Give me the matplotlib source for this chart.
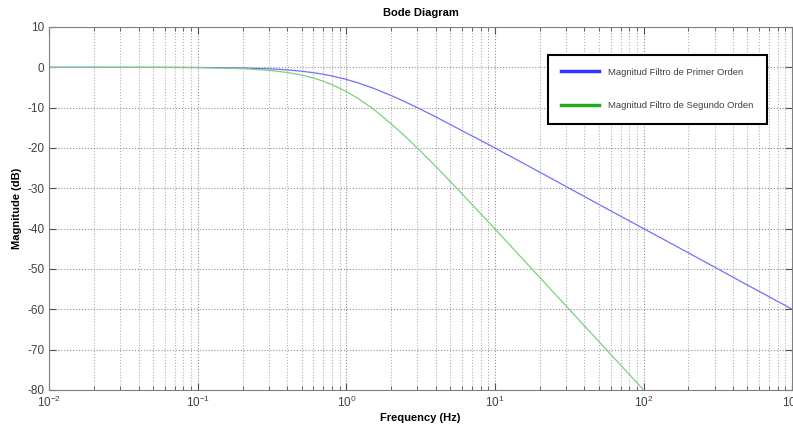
import matplotlib
matplotlib.use("Agg")
import matplotlib.pyplot as plt
from matplotlib.lines import Line2D

plt.rcParams['font.family'] = ['Liberation Sans', 'DejaVu Sans']
plt.rcParams['mathtext.default'] = 'regular'
plt.rcParams['axes.unicode_minus'] = False

# values (Hz, dB)
freq_1 = [0.01, 0.05, 0.1, 0.2, 0.3, 0.4, 0.5, 0.6, 0.7, 0.8, 1.0, 1.2, 1.5, 2.0, 2.5,
          3.0, 4.0, 5.0, 7.0, 10.0, 20.0, 50.0, 100.0, 200.0, 500.0, 1000.0]
mag_1 = [0.0, -0.01, -0.04, -0.17, -0.37, -0.64, -0.97, -1.34, -1.73, -2.15, -3.01, -3.87,
         -5.12, -6.99, -8.60, -10.0, -12.3, -14.2, -17.0, -20.0, -26.0, -34.0, -40.0,
         -46.0, -54.0, -60.0]

freq_2 = [0.01, 0.05, 0.1, 0.2, 0.3, 0.4, 0.5, 0.6, 0.7, 0.8, 1.0, 1.2, 1.5, 2.0, 2.5,
          3.0, 4.0, 5.0, 7.0, 10.0, 20.0, 50.0, 100.0]
mag_2 = [0.0, -0.02, -0.09, -0.34, -0.74, -1.29, -1.94, -2.67, -3.46, -4.30, -6.02, -7.74,
         -10.2, -14.0, -17.2, -20.0, -24.6, -28.3, -34.0, -40.1, -52.1, -68.0, -80.0]

labels = ['Magnitud Filtro de Primer Orden', 'Magnitud Filtro de Segundo Orden']

fig = plt.figure(figsize=(7.93, 4.28), dpi=100)
ax = fig.add_axes([0.062, 0.089, 0.937, 0.848])

ax.semilogx(freq_1, mag_1, color='#7070ff', lw=0.9)
ax.semilogx(freq_2, mag_2, color='#7fd07f', lw=0.9)

ax.set_xlim(1e-2, 1e3)
ax.set_ylim(-80, 10)
ax.set_yticks(range(-80, 11, 10))

ax.grid(True, which='major', ls=':', color='#909090', lw=0.8)
ax.grid(True, which='minor', axis='x', ls=':', color='#b0b0b0', lw=0.8)

ax.tick_params(which='both', direction='in', top=True, right=True,
               labelsize=8.5, colors='#505050', labelcolor='#404040')
ax.tick_params(which='major', length=5)
ax.tick_params(which='minor', length=3)
for s in ax.spines.values():
    s.set_color('#808080')

ax.set_title('Bode Diagram', fontsize=8, fontweight='bold', pad=8)
ax.set_xlabel('Frequency (Hz)', fontsize=8, fontweight='bold', labelpad=2)
ax.set_ylabel('Magnitude (dB)', fontsize=8, fontweight='bold', labelpad=4)

handles = [Line2D([], [], color='#3333ff', lw=2.5), Line2D([], [], color='#22aa22', lw=2.5)]
leg = ax.legend(handles, labels, loc='upper right', bbox_to_anchor=(0.966, 0.924),
                fancybox=False, fontsize=6.8, labelspacing=2.6, handlelength=4,
                borderpad=1.4, handletextpad=1.0, borderaxespad=0, framealpha=1)
leg.get_frame().set_edgecolor('black')
leg.get_frame().set_linewidth(1.5)
for t in leg.get_texts():
    t.set_color('#404040')

fig.savefig('out.png', dpi=100)
